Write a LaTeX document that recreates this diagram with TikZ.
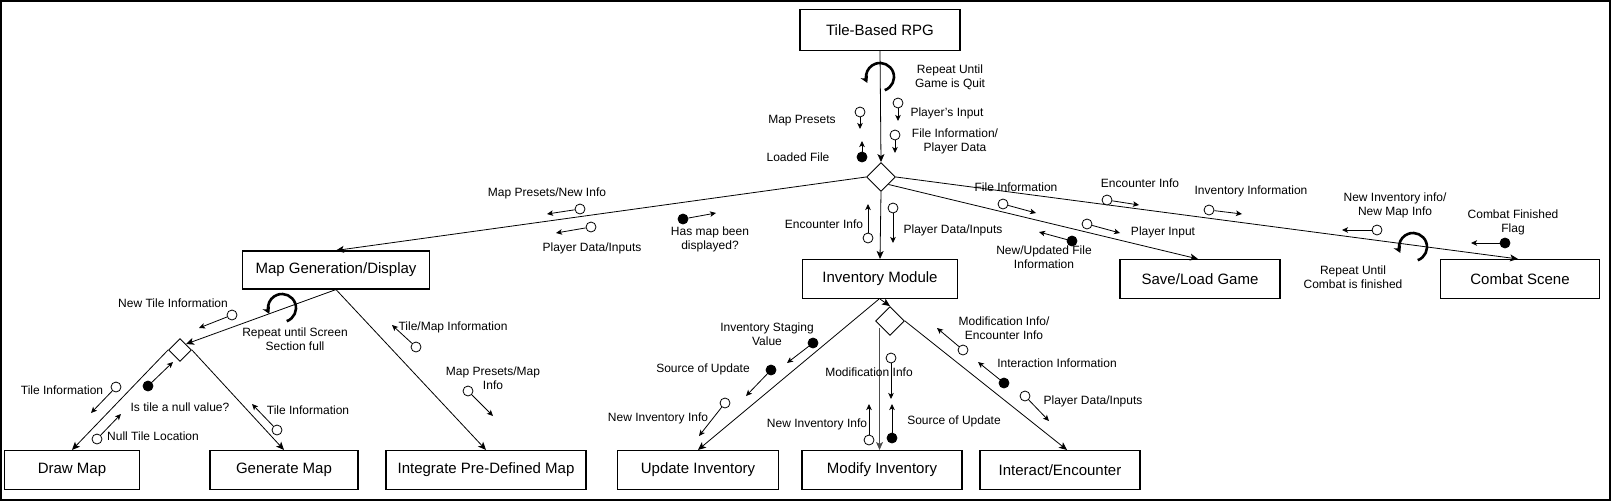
\documentclass[tikz,border=0pt]{standalone}
\usepackage{fontspec}
\setmainfont{Liberation Sans}
\usetikzlibrary{shapes.geometric,arrows.meta}
\tikzset{
  box/.style={draw,line width=1.1pt,minimum height=39pt,inner sep=0pt,font=\fontsize{15}{18}\selectfont},
  dia/.style={draw,diamond,aspect=1,inner sep=0pt,line width=0.9pt,fill=white},
  flow/.style={line width=0.8pt,-{Stealth[length=8pt,width=7pt,inset=2pt]}},
  lbl/.style={align=center,inner sep=0pt,font=\fontsize{12}{14}\selectfont},
  cplo/.style={circle,draw,fill=white,inner sep=0pt,minimum size=10pt,line width=0.8pt},
  cplf/.style={circle,draw,fill=black,inner sep=0pt,minimum size=10pt,line width=0.8pt},
  carr/.style={line width=0.8pt,-{Stealth[length=6pt,width=5.5pt,inset=1.5pt]}},
  loopa/.style={line width=2.6pt,-{Stealth[length=7pt,width=8pt,inset=2pt]}}
}
\begin{document}
\begin{tikzpicture}[x=1pt,y=-1pt]
\useasboundingbox (0,0) rectangle (1611,501);
\draw[line width=2pt] (1,1) rectangle (1610,500);
% boxes
\node[box,minimum width=160pt,minimum height=41pt] (rpg) at (880,30) {Tile-Based RPG};
\node[box,minimum width=187pt,minimum height=38pt] (mapgen) at (336,270) {Map Generation/Display};
\node[box,minimum width=155pt] (inv) at (880,279) {Inventory Module};
\node[box,minimum width=160pt] (save) at (1200,279) {Save/Load Game};
\node[box,minimum width=159pt] (combat) at (1520,279) {Combat Scene};
\node[box,minimum width=135pt] (drawm) at (72,470) {Draw Map};
\node[box,minimum width=148pt] (gen) at (284,470) {Generate Map};
\node[box,minimum width=200pt] (integ) at (486,470) {Integrate Pre-Defined Map};
\node[box,minimum width=161pt] (upd) at (698,470) {Update Inventory};
\node[box,minimum width=160pt] (mod) at (882,470) {Modify Inventory};
\node[box,minimum width=160pt] (inter) at (1060,470) {Interact/Encounter};
% diamonds
\node[dia,minimum width=29pt,minimum height=29pt] (d1) at (881,177) {};
\node[dia,minimum width=23pt,minimum height=23pt] (d2) at (180,350) {};
\node[dia,minimum width=29pt,minimum height=29pt] (d3) at (890,321) {};
% connectors
\draw[flow] (rpg.south) -- (d1.north);
\draw[flow] (d1.west) -- (mapgen.north);
\draw[flow] (d1.south) -- (inv.north);
\draw[flow] (d1.south east) -- ([xshift=-2pt]save.north);
\draw[flow] (d1.east) -- ([xshift=-2pt]combat.north);
\draw[flow] (mapgen.south) -- (d2.north east);
\draw[flow] (d2.west) -- (drawm.north);
\draw[flow] (d2.east) -- (gen.north);
\draw[flow] (mapgen.south) -- (integ.north);
\draw[flow] ([xshift=-1pt]inv.south) -- (upd.north);
\draw[flow] (inv.south) -- (d3.north);
\draw[flow,black!70] ([xshift=-3pt]d3.south west) -- ([xshift=-3pt]d3.south west |- mod.north);
\draw[flow] (d3.east) -- ([xshift=7pt]inter.north);
% repeat loops
\coordinate (L1) at (880,77);
\coordinate (L2) at (282,308);
\coordinate (L3) at (1413,247);
\foreach \L in {L1,L2,L3}{
  \begin{scope}[shift={(\L)},x=1pt,y=1pt]
    \draw[loopa] (-70:14) arc[start angle=-70,end angle=205,radius=14];
  \end{scope}
}
% data couples
\foreach \n/\x/\y/\s/\ex/\ey in {
  a/898/103/cplo/898/121, b/895/135/cplo/895/153, c/860/112/cplo/860/129, d/862/157/cplf/862/141,
  e/580/209/cplo/547/214, f/591/227/cplo/556/233, g/683/219/cplf/716/213,
  h/868/238/cplo/868/204, i/893/208/cplo/893/243,
  j/1003/204/cplo/1036/213, k/1107/200/cplo/1139/205, l/1209/210/cplo/1242/214,
  m/1087/224/cplo/1120/233, n/1072/241/cplf/1039/232,
  o/1377/230/cplo/1342/230, p/1505/243/cplf/1471/243,
  q/232/315/cplo/199/328, r/116/387/cplo/91/413, s/148/386/cplf/173/362, t/97/439/cplo/121/414,
  u/277/430/cplo/252/404, v/416/347/cplo/392/325, w/468/391/cplo/493/416,
  x/813/343/cplf/787/363, y/771/370/cplf/746/396, z/725/403/cplo/699/436,
  aa/891/358/cplo/891/399, bb/869/440/cplo/869/404, cc/892/438/cplf/892/404,
  dd/963/350/cplo/937/328, ee/1004/383/cplf/978/362, ff/1025/396/cplo/1049/421}
{
  \node[\s] (c\n) at (\x,\y) {};
  \coordinate (e\n) at (\ex,\ey);
  \draw[carr] (c\n) -- (e\n);
}
% labels
\node[lbl] (t1) at (950,77) {Repeat Until\\Game is Quit};
\node[lbl] (t2) at (947,113) {Player's Input};
\node[lbl] (t3) at (955,141) {File Information/\\Player Data};
\node[lbl] (t4) at (802,121) {Map Presets};
\node[lbl] (t5) at (798,157) {Loaded File};
\node[lbl] (t6) at (547,193) {Map Presets/New Info};
\node[lbl] (t7) at (592,248) {Player Data/Inputs};
\node[lbl] (t8) at (710,239) {Has map been\\displayed?};
\node[lbl] (t9) at (824,224) {Encounter Info};
\node[lbl] (t10) at (953,230) {Player Data/Inputs};
\node[lbl] (t11) at (1016,187) {File Information};
\node[lbl] (t12) at (1140,183) {Encounter Info};
\node[lbl] (t13) at (1251,191) {Inventory Information};
\node[lbl] (t14) at (1163,232) {Player Input};
\node[lbl] (t15) at (1044,257) {New/Updated File\\Information};
\node[lbl] (t16) at (1395,205) {New Inventory info/\\New Map Info};
\node[lbl] (t17) at (1353,277) {Repeat Until\\Combat is finished};
\node[lbl] (t18) at (1513,222) {Combat Finished\\Flag};
\node[lbl] (t19) at (173,303) {New Tile Information};
\node[lbl] (t20) at (295,339) {Repeat until Screen\\Section full};
\node[lbl] (t21) at (62,390) {Tile Information};
\node[lbl] (t22) at (180,407) {Is tile a null value?};
\node[lbl] (t23) at (153,436) {Null Tile Location};
\node[lbl] (t24) at (308,410) {Tile Information};
\node[lbl] (t25) at (453,327) {Tile/Map Information};
\node[lbl] (t26) at (493,378) {Map Presets/Map\\Info};
\node[lbl] (t27) at (767,334) {Inventory Staging\\Value};
\node[lbl] (t28) at (703,369) {Source of Update};
\node[lbl] (t29) at (658,418) {New Inventory Info};
\node[lbl] (t30) at (869,372) {Modification Info};
\node[lbl] (t31) at (817,424) {New Inventory Info};
\node[lbl] (t32) at (954,421) {Source of Update};
\node[lbl] (t33) at (1004,328) {Modification Info/\\Encounter Info};
\node[lbl] (t34) at (1057,363) {Interaction Information};
\node[lbl] (t35) at (1093,401) {Player Data/Inputs};
\end{tikzpicture}
\end{document}
